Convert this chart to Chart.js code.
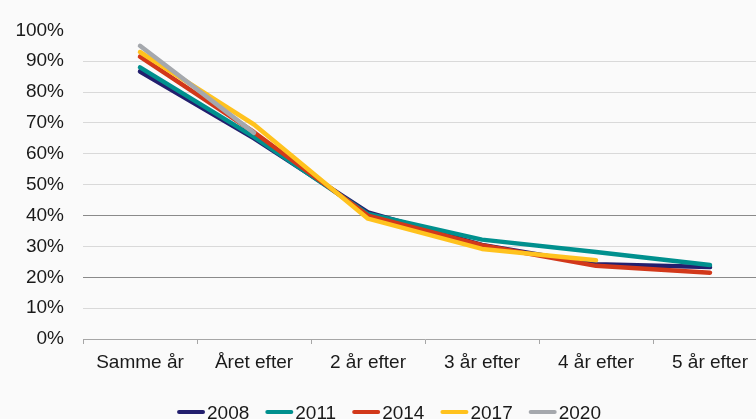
<!DOCTYPE html>
<html>
<head>
<meta charset="utf-8">
<script src="https://cdn.jsdelivr.net/npm/chart.js@4"></script>
<style>
  html, body { margin: 0; padding: 0; background: #fafafa; overflow: hidden; }
  #wrap { width: 780px; height: 419px; }
</style>
</head>
<body>
<div id="wrap"><canvas id="myChart"></canvas></div>
<script>
// Share still active, by years since start
const categories = ['Samme år', 'Året efter', '2 år efter', '3 år efter', '4 år efter', '5 år efter'];
const years = ['2008', '2011', '2014', '2017', '2020'];
const values2008 = [86.7, 65, 41, 30.5, 24.2, 23.3];
const values2011 = [88, 65.5, 40.5, 32.2, 28.2, 24];
const values2014 = [91.5, 67, 40, 30.4, 23.7, 21.5];
const values2017 = [93, 69.5, 39, 29.2, 25.5, null];
const values2020 = [95, 66.8, null, null, null, null];
const colors = ['#231f6e', '#00908e', '#d2381a', '#ffc21e', '#a5a8ad'];
const yTicks = [0, 10, 20, 30, 40, 50, 60, 70, 80, 90, 100];

const FONT = '"Liberation Sans", Arial, sans-serif';

// Legend: short line + label, drawn under the axis
const lineLegend = {
    id: 'lineLegend',
    afterDraw(chart) {
        const ctx = chart.ctx;
        const sets = chart.data.datasets;
        ctx.save();
        ctx.font = '19px ' + FONT;
        const widths = sets.map(ds => ctx.measureText(ds.label).width);
        const total = widths.reduce((s, w) => s + 30 + w, 0) + 16 * (sets.length - 1);
        let x = 389 - total / 2;
        sets.forEach((ds, i) => {
            ctx.strokeStyle = ds.borderColor;
            ctx.lineWidth = 4;
            ctx.lineCap = 'round';
            ctx.beginPath();
            ctx.moveTo(x + 2, 412);
            ctx.lineTo(x + 26, 412);
            ctx.stroke();
            ctx.fillStyle = '#1a1a1a';
            ctx.textBaseline = 'alphabetic';
            ctx.fillText(ds.label, x + 30, 418.5);
            x += 30 + widths[i] + 16;
        });
        ctx.restore();
    }
};

const series = [values2008, values2011, values2014, values2017, values2020];

const ctx = document.getElementById('myChart').getContext('2d');
const myChart = new Chart(ctx, {
    type: 'line',
    data: {
        labels: categories,
        datasets: series.map((vals, i) => ({
            label: years[i],
            data: vals,
            borderColor: colors[i],
            backgroundColor: colors[i],
            borderWidth: 4.5,
            borderCapStyle: 'round',
            borderJoinStyle: 'round',
            pointRadius: 0,
            tension: 0,
            order: series.length - i
        }))
    },
    plugins: [lineLegend],
    options: {
        responsive: true,
        maintainAspectRatio: false,
        animation: false,
        layout: { padding: { top: 25, right: 13, bottom: 0, left: 0 } },
        plugins: {
            legend: { display: false },
            tooltip: { enabled: false }
        },
        scales: {
            x: {
                offset: true,
                afterFit: s => { s.height = 80; },
                border: { display: true, color: '#a6a6a6', width: 1 },
                grid: {
                    offset: true,
                    drawOnChartArea: false,
                    drawTicks: true,
                    tickLength: 5,
                    color: '#a6a6a6'
                },
                ticks: {
                    color: '#1a1a1a',
                    padding: 7,
                    maxRotation: 0,
                    autoSkip: false,
                    font: { family: FONT, size: 19 }
                }
            },
            y: {
                min: 0,
                max: 100,
                afterFit: s => { s.width = 83; },
                afterBuildTicks: s => { s.ticks = yTicks.map(v => ({ value: v })); },
                border: { display: false },
                grid: {
                    drawTicks: false,
                    color: c => {
                        const v = c.tick.value;
                        if (v === 0 || v === 100) return 'rgba(0,0,0,0)';
                        if (v === 20 || v === 40) return '#8a8a8a';
                        return '#d9d9d9';
                    }
                },
                ticks: {
                    color: '#1a1a1a',
                    padding: 19,
                    font: { family: FONT, size: 19 },
                    callback: v => v + '%'
                }
            }
        }
    }
});
</script>
</body>
</html>
